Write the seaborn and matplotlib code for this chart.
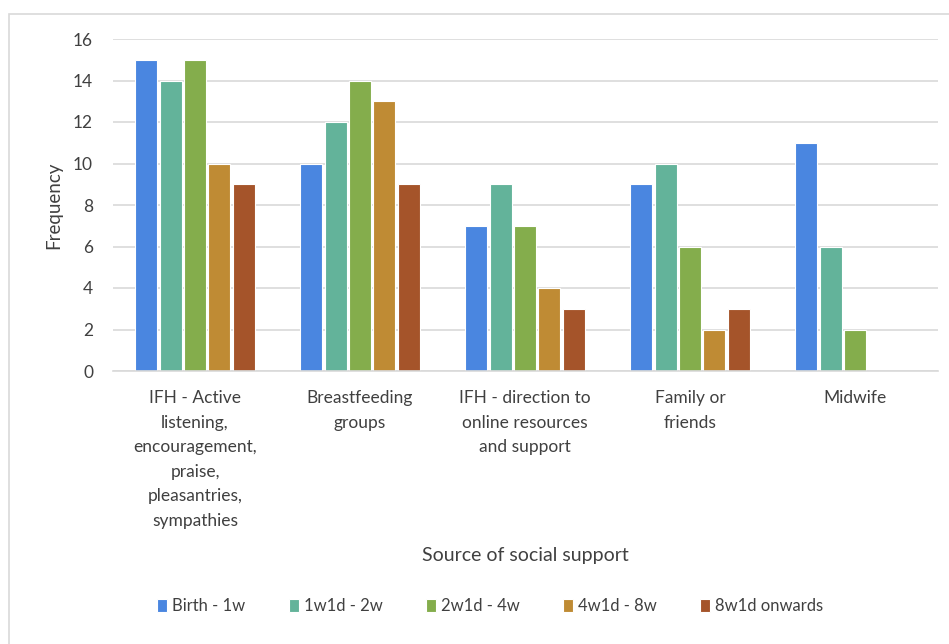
import numpy as np
import pandas as pd
import seaborn as sns
import matplotlib.pyplot as plt
from matplotlib.patches import Rectangle

sources = ["IFH - Active\nlistening,\nencouragement,\npraise,\npleasantries,\nsympathies",
           "Breastfeeding\ngroups",
           "IFH - direction to\nonline resources\nand support",
           "Family or\nfriends",
           "Midwife"]
periods = ["Birth - 1w", "1w1d - 2w", "2w1d - 4w", "4w1d - 8w", "8w1d onwards"]
birth_1w = [15, 10, 7, 9, 11]
w1_2w = [14, 12, 9, 10, 6]
w2_4w = [15, 14, 7, 6, 2]
w4_8w = [10, 13, 4, 2, 0]
w8_on = [9, 9, 3, 3, 0]
colors = ["#4A86E0", "#63B39A", "#84AD4C", "#BF8B34", "#A5542A"]

series = [birth_1w, w1_2w, w2_4w, w4_8w, w8_on]
df = pd.DataFrame([(s, p, v[i]) for p, v in zip(periods, series) for i, s in enumerate(sources)],
                  columns=["source", "period", "freq"])

sns.set_theme(style="white")
plt.rcParams['font.family'] = ['Lato', 'DejaVu Sans']
txt = "#404040"

fig = plt.figure(figsize=(9.49, 6.44), dpi=100)
fig.patches.append(Rectangle((9/949, -0.1), 1.2, (644-14)/644 + 0.1, transform=fig.transFigure,
                             fill=False, edgecolor="#D9D9D9", linewidth=1.2))
ax = fig.add_axes([112.5/949, 1-371/644, 825/949, 332/644])

sns.barplot(data=df, x="source", y="freq", hue="period", palette=colors, saturation=1,
            width=0.74, gap=0.1, edgecolor="white", linewidth=0.8, ax=ax, legend=True)

ax.set_ylim(0, 16)
ax.set_yticks(range(0, 17, 2))
ax.yaxis.grid(True, color="#D9D9D9", linewidth=1.2)
ax.set_axisbelow(True)
for side in ["top", "right", "left"]:
    ax.spines[side].set_visible(False)
ax.spines["bottom"].set_color("#D9D9D9")
ax.spines["bottom"].set_linewidth(1.2)
ax.tick_params(axis="y", length=0, pad=14, labelsize=12.5, labelcolor=txt)
ax.tick_params(axis="x", length=0, pad=14, labelsize=12.5, labelcolor=txt)
for lbl in ax.get_xticklabels():
    lbl.set_linespacing(1.65)
    lbl.set_verticalalignment("top")

ax.set_ylabel("Frequency", fontsize=13.5, color=txt, labelpad=8)
ax.set_xlabel("")
fig.text(525/949, 1-556/644, "Source of social support", ha="center", va="center",
         fontsize=14, color=txt)

ax.legend(loc="center", bbox_to_anchor=(490/949, 1-606/644), bbox_transform=fig.transFigure,
          ncol=5, frameon=False, fontsize=12, handlelength=0.6, handleheight=0.8,
          handletextpad=0.3, columnspacing=2.6, labelcolor=txt)

fig.savefig("out.png", dpi=100)
